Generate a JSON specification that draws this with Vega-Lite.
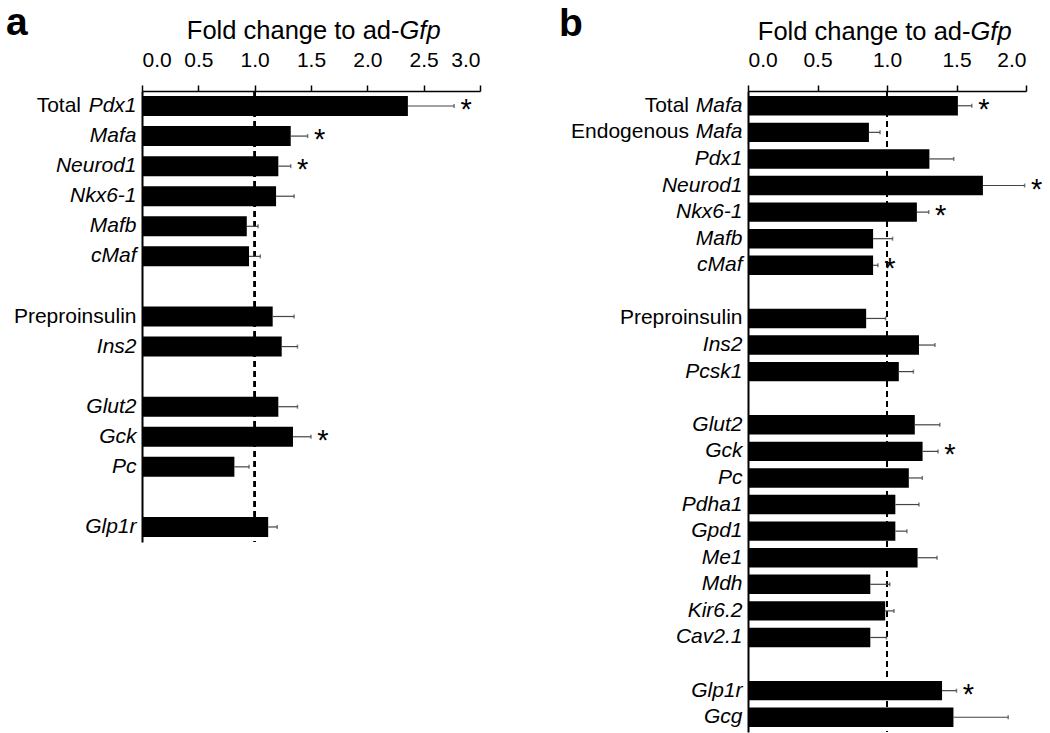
{
  "$schema": "https://vega.github.io/schema/vega-lite/v6.json",
  "padding": {"left": 6, "top": 4, "right": 5, "bottom": 0},
  "spacing": 78,
  "config": {
    "font": "Liberation Sans",
    "view": {"stroke": null},
    "axis": {"labelColor": "#000", "titleColor": "#000", "domainColor": "#000", "tickColor": "#000", "grid": false, "labelFont": "Liberation Sans", "titleFont": "Liberation Sans"}
  },
  "datasets": {
    "a": [
      {"gene": "Total Pdx1", "value": 2.36, "upper": 2.77, "sig": "*", "prefix": "Total"},
      {"gene": "Mafa", "value": 1.32, "upper": 1.47, "sig": "*"},
      {"gene": "Neurod1", "value": 1.21, "upper": 1.32, "sig": "*"},
      {"gene": "Nkx6-1", "value": 1.19, "upper": 1.35},
      {"gene": "Mafb", "value": 0.93, "upper": 1.03},
      {"gene": "cMaf", "value": 0.95, "upper": 1.05},
      {"gene": "Preproinsulin", "value": 1.16, "upper": 1.35},
      {"gene": "Ins2", "value": 1.24, "upper": 1.38},
      {"gene": "Glut2", "value": 1.21, "upper": 1.38},
      {"gene": "Gck", "value": 1.34, "upper": 1.5, "sig": "*"},
      {"gene": "Pc", "value": 0.82, "upper": 0.95},
      {"gene": "Glp1r", "value": 1.12, "upper": 1.2}
    ],
    "b": [
      {"gene": "Total Mafa", "value": 1.51, "upper": 1.61, "sig": "*", "prefix": "Total"},
      {"gene": "Endogenous Mafa", "value": 0.87, "upper": 0.95, "prefix": "Endogenous"},
      {"gene": "Pdx1", "value": 1.305, "upper": 1.48},
      {"gene": "Neurod1", "value": 1.69, "upper": 1.99, "sig": "*"},
      {"gene": "Nkx6-1", "value": 1.215, "upper": 1.3, "sig": "*"},
      {"gene": "Mafb", "value": 0.9, "upper": 1.04},
      {"gene": "cMaf", "value": 0.9, "upper": 0.935, "sig": "*"},
      {"gene": "Preproinsulin", "value": 0.85, "upper": 0.99},
      {"gene": "Ins2", "value": 1.23, "upper": 1.345},
      {"gene": "Pcsk1", "value": 1.085, "upper": 1.19},
      {"gene": "Glut2", "value": 1.2, "upper": 1.38},
      {"gene": "Gck", "value": 1.256, "upper": 1.367, "sig": "*"},
      {"gene": "Pc", "value": 1.157, "upper": 1.254},
      {"gene": "Pdha1", "value": 1.06, "upper": 1.23},
      {"gene": "Gpd1", "value": 1.06, "upper": 1.143},
      {"gene": "Me1", "value": 1.22, "upper": 1.36},
      {"gene": "Mdh", "value": 0.88, "upper": 1.02},
      {"gene": "Kir6.2", "value": 0.987, "upper": 1.05},
      {"gene": "Cav2.1", "value": 0.88, "upper": 0.996},
      {"gene": "Glp1r", "value": 1.396, "upper": 1.5, "sig": "*"},
      {"gene": "Gcg", "value": 1.478, "upper": 1.872}
    ]
  },
  "hconcat": [
    {
      "width": 338,
      "height": 451,
      "title": {"text": "a", "anchor": "start", "frame": "group", "fontSize": 39, "fontWeight": "bold", "color": "#000", "baseline": "alphabetic", "dx": -136, "dy": 14, "offset": -42},
      "data": {"name": "a"},
      "layer": [
        {
          "mark": {"type": "rule", "strokeDash": [6, 4], "strokeWidth": 1.6, "color": "#000"},
          "encoding": {"x": {"datum": 1, "type": "quantitative", "axis": {"orient": "top"}}}
        },
        {
          "mark": {"type": "bar", "color": "#000"},
          "encoding": {
            "x": {"field": "value", "type": "quantitative", "scale": {"domain": [0, 3], "nice": false},
              "axis": {"orient": "top", "values": [0, 0.5, 1, 1.5, 2, 2.5, 3], "format": ".1f", "labelFontSize": 21, "tickSize": 6, "tickWidth": 1.5, "domainWidth": 1.5, "labelPadding": 15,
                "title": "Gfp", "titleFontStyle": "italic", "titleFontWeight": "normal", "titleFontSize": 25.5, "titleAlign": "left", "titleBaseline": "alphabetic", "titleX": 257, "titleY": -53}},
            "y": {"field": "gene", "type": "nominal",
              "scale": {"domain": ["Total Pdx1", "Mafa", "Neurod1", "Nkx6-1", "Mafb", "cMaf", "gap1", "Preproinsulin", "Ins2", "gap2", "Glut2", "Gck", "Pc", "gap3", "Glp1r"], "paddingInner": 0.335, "paddingOuter": 0.167},
              "axis": {"ticks": false, "domainWidth": 2, "labelPadding": 6, "labelFontSize": 21,
                "labelExpr": "datum.value == 'Total Pdx1' ? 'Pdx1' : (indexof(datum.value, 'gap') == 0 ? '' : datum.value)",
                "labelFontStyle": {"condition": {"test": "datum.value == 'Preproinsulin'", "value": "normal"}, "value": "italic"},
                "title": "Fold change to ad-", "titleAngle": 0, "titleFontWeight": "normal", "titleFontSize": 25.5, "titleAlign": "right", "titleBaseline": "alphabetic", "titleX": 257, "titleY": -53}}
          }
        },
        {
          "mark": {"type": "rule", "color": "#444", "strokeWidth": 1.2},
          "encoding": {
            "x": {"field": "value", "type": "quantitative", "axis": {"orient": "top"}},
            "x2": {"field": "upper"},
            "y": {"field": "gene", "type": "nominal"}
          }
        },
        {
          "mark": {"type": "tick", "color": "#444", "size": 4, "thickness": 1.5, "orient": "vertical"},
          "encoding": {
            "x": {"field": "upper", "type": "quantitative", "axis": {"orient": "top"}},
            "y": {"field": "gene", "type": "nominal"}
          }
        },
        {
          "transform": [{"filter": "datum.sig"}],
          "mark": {"type": "text", "fontSize": 29, "align": "center", "baseline": "alphabetic", "dx": 12, "dy": 13, "color": "#000"},
          "encoding": {
            "x": {"field": "upper", "type": "quantitative", "axis": {"orient": "top"}},
            "y": {"field": "gene", "type": "nominal"},
            "text": {"field": "sig"}
          }
        },
        {
          "transform": [{"filter": "datum.prefix"}],
          "mark": {"type": "text", "fontSize": 21, "align": "right", "baseline": "middle", "dx": -61, "color": "#000"},
          "encoding": {
            "x": {"datum": 0, "type": "quantitative", "axis": {"orient": "top"}},
            "y": {"field": "gene", "type": "nominal"},
            "text": {"field": "prefix"}
          }
        }
      ]
    },
    {
      "width": 278,
      "height": 641,
      "title": {"text": "b", "anchor": "start", "frame": "group", "fontSize": 39, "fontWeight": "bold", "color": "#000", "baseline": "alphabetic", "dx": -189, "dy": 14, "offset": -42},
      "data": {"name": "b"},
      "layer": [
        {
          "mark": {"type": "rule", "strokeDash": [6, 4], "strokeWidth": 1.6, "color": "#000"},
          "encoding": {"x": {"datum": 1, "type": "quantitative", "axis": {"orient": "top"}}}
        },
        {
          "mark": {"type": "bar", "color": "#000"},
          "encoding": {
            "x": {"field": "value", "type": "quantitative", "scale": {"domain": [0, 2], "nice": false},
              "axis": {"orient": "top", "values": [0, 0.5, 1, 1.5, 2], "format": ".1f", "labelFontSize": 21, "tickSize": 6, "tickWidth": 1.5, "domainWidth": 1.5, "labelPadding": 15,
                "title": "Gfp", "titleFontStyle": "italic", "titleFontWeight": "normal", "titleFontSize": 25.5, "titleAlign": "left", "titleBaseline": "alphabetic", "titleX": 222, "titleY": -52}},
            "y": {"field": "gene", "type": "nominal",
              "scale": {"domain": ["Total Mafa", "Endogenous Mafa", "Pdx1", "Neurod1", "Nkx6-1", "Mafb", "cMaf", "gap1", "Preproinsulin", "Ins2", "Pcsk1", "gap2", "Glut2", "Gck", "Pc", "Pdha1", "Gpd1", "Me1", "Mdh", "Kir6.2", "Cav2.1", "gap3", "Glp1r", "Gcg"], "paddingInner": 0.27, "paddingOuter": 0.19},
              "axis": {"ticks": false, "domainWidth": 2, "labelPadding": 6, "labelFontSize": 21,
                "labelExpr": "datum.value == 'Total Mafa' || datum.value == 'Endogenous Mafa' ? 'Mafa' : (indexof(datum.value, 'gap') == 0 ? '' : datum.value)",
                "labelFontStyle": {"condition": {"test": "datum.value == 'Preproinsulin'", "value": "normal"}, "value": "italic"},
                "title": "Fold change to ad-", "titleAngle": 0, "titleFontWeight": "normal", "titleFontSize": 25.5, "titleAlign": "right", "titleBaseline": "alphabetic", "titleX": 222, "titleY": -52}}
          }
        },
        {
          "mark": {"type": "rule", "color": "#444", "strokeWidth": 1.2},
          "encoding": {
            "x": {"field": "value", "type": "quantitative", "axis": {"orient": "top"}},
            "x2": {"field": "upper"},
            "y": {"field": "gene", "type": "nominal"}
          }
        },
        {
          "mark": {"type": "tick", "color": "#444", "size": 4, "thickness": 1.5, "orient": "vertical"},
          "encoding": {
            "x": {"field": "upper", "type": "quantitative", "axis": {"orient": "top"}},
            "y": {"field": "gene", "type": "nominal"}
          }
        },
        {
          "transform": [{"filter": "datum.sig"}],
          "mark": {"type": "text", "fontSize": 29, "align": "center", "baseline": "alphabetic", "dx": 12, "dy": 13, "color": "#000"},
          "encoding": {
            "x": {"field": "upper", "type": "quantitative", "axis": {"orient": "top"}},
            "y": {"field": "gene", "type": "nominal"},
            "text": {"field": "sig"}
          }
        },
        {
          "transform": [{"filter": "datum.prefix"}],
          "mark": {"type": "text", "fontSize": 21, "align": "right", "baseline": "middle", "dx": -59, "color": "#000"},
          "encoding": {
            "x": {"datum": 0, "type": "quantitative", "axis": {"orient": "top"}},
            "y": {"field": "gene", "type": "nominal"},
            "text": {"field": "prefix"}
          }
        }
      ]
    }
  ]
}
